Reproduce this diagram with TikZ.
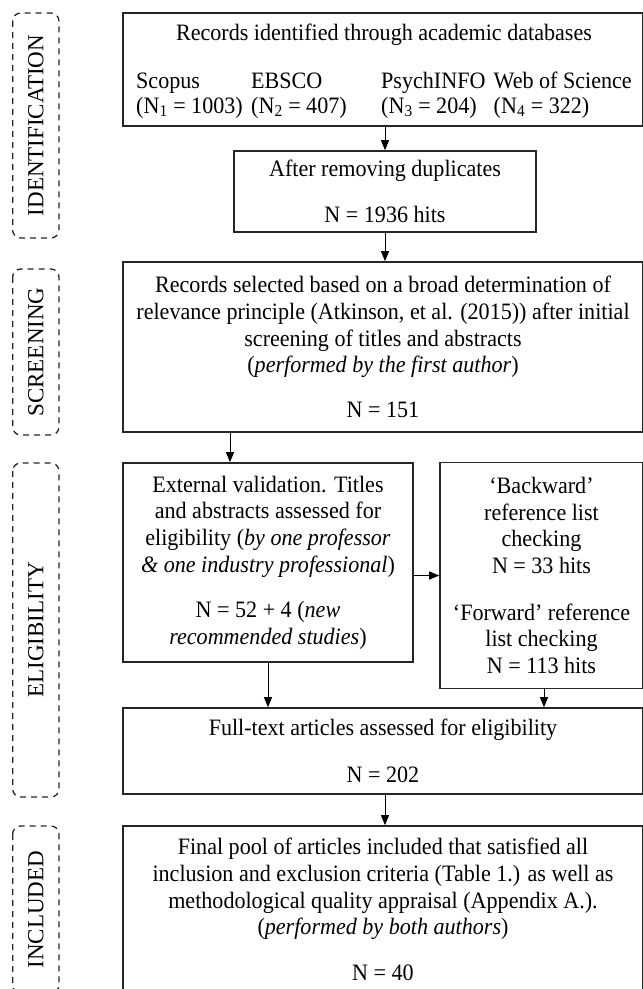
\documentclass[tikz,border=0pt]{standalone}
\usepackage{fontspec}
\setmainfont{Liberation Serif}[FakeStretch=0.94]
\newfontfamily\phasefont{Liberation Serif}
\usetikzlibrary{arrows.meta}

\begin{document}
\begin{tikzpicture}[x=1pt,y=-1pt,>={Triangle[length=10pt,width=8pt]},
    every node/.style={font=\fontsize{23.5}{26.7}\selectfont},
    box/.style={draw=black!85,line width=1.6pt,align=center,inner sep=0pt},
    dbcol/.style={align=left,inner sep=0pt,font=\fontsize{23.5}{25}\selectfont},
    phase/.style={draw=black!85,dash pattern=on 6pt off 5pt,line width=1.3pt,rounded corners=8pt,
        rotate=90,minimum height=46.3pt,inner sep=0pt,font=\phasefont\fontsize{23}{26}\selectfont},
    link/.style={->,line width=0.9pt}]
    \useasboundingbox (0,0) rectangle (643,989);

    % phases on the left
    \node[phase,minimum width=225] (ident) at (35.8,125.5) {IDENTIFICATION};
    \node[phase,minimum width=166] (screenlbl) at (35.8,352) {SCREENING};
    \node[phase,minimum width=334] (eliglbl) at (35.8,630) {ELIGIBILITY};
    \node[phase,minimum width=167] (incllbl) at (35.8,909.5) {INCLUDED};

    % identification
    \node[box,minimum width=520,minimum height=113] (records) at (383,69.5) {};
    \node (recordstitle) at (384,35) {Records identified through academic databases};
    \node[dbcol,anchor=west] (scopus) at (136,95.5) {\strut Scopus\\(N\textsubscript{1} = 1003)\strut};
    \node[dbcol,anchor=west] (ebsco) at (251,95.5) {\strut EBSCO\\(N\textsubscript{2} = 407)\strut};
    \node[dbcol,anchor=west] (psych) at (381,95.5) {\strut PsychINFO\\(N\textsubscript{3} = 204)\strut};
    \node[dbcol,anchor=east] (wos) at (632,95.5) {\strut Web of Science\\(N\textsubscript{4} = 322)\strut};

    \node[box,minimum width=302,minimum height=81] (dup) at (385,191.5)
        {After removing duplicates\\[19.3pt]N = 1936 hits};

    % screening
    \node[box,minimum width=520,minimum height=170] (screen) at (383,347)
        {Records selected based on a broad determination of\\
         relevance principle (Atkinson, et al. (2015)) after initial\\
         screening of titles and abstracts\\
         (\textit{performed by the first author})\\[18.3pt]
         N = 151};

    % eligibility
    \node[box,minimum width=290,minimum height=199] (valid) at (268,562.5)
        {External validation. Titles\\
         and abstracts assessed for\\
         eligibility (\textit{by one professor}\\
         \textit{\& one industry professional})\\[18.3pt]
         N = 52 + 4 (\textit{new}\\
         \textit{recommended studies})};
    \node[box,minimum width=203,minimum height=226] (refs) at (541.5,575.5)
        {`Backward'\\reference list\\checking\\N = 33 hits\\[20pt]
         `Forward' reference\\list checking\\N = 113 hits};

    \node[box,minimum width=520,minimum height=86] (full) at (383,751)
        {Full-text articles assessed for eligibility\\[20pt]N = 202};

    % included
    \node[box,minimum width=520,minimum height=167] (final) at (383,909.5)
        {Final pool of articles included that satisfied all\\
         inclusion and exclusion criteria (Table 1.) as well as\\
         methodological quality appraisal (Appendix A.).\\
         (\textit{performed by both authors})\\[19pt]
         N = 40};

    \draw[link] (dup.north |- records.south) -- (dup.north);
    \draw[link] (dup.south) -- (dup.south |- screen.north);
    \draw[link] ([xshift=-38pt]valid.north |- screen.south) -- ([xshift=-38pt]valid.north);
    \draw[link] (refs.west -| valid.east) -- (refs.west);
    \draw[link] (valid.south) -- (valid.south |- full.north);
    \draw[link] ([xshift=2.5pt]refs.south) -- ([xshift=2.5pt]refs.south |- full.north);
    \draw[link] (full.south -| dup.south) -- (final.north -| dup.south);
\end{tikzpicture}
\end{document}
